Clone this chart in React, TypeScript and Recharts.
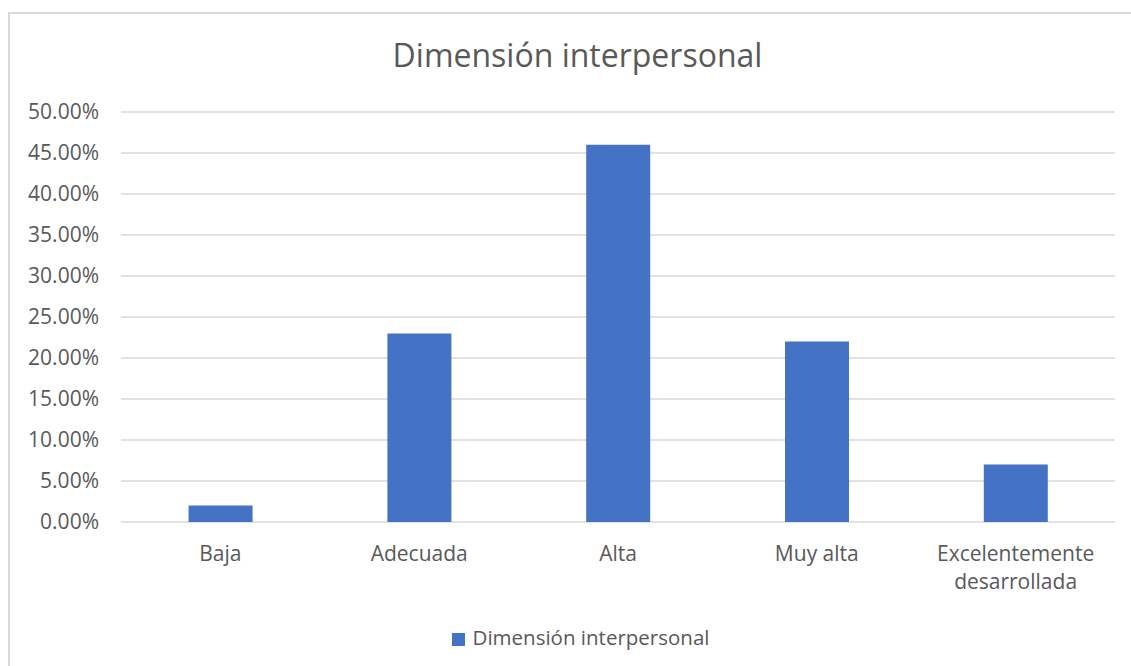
import { BarChart, Bar, XAxis, YAxis, CartesianGrid, Legend, Text } from 'recharts';

const categories = ['Baja', 'Adecuada', 'Alta', 'Muy alta', 'Excelentemente desarrollada'];
const values = [0.02, 0.23, 0.46, 0.22, 0.07];
const yTicks = [0, 0.05, 0.1, 0.15, 0.2, 0.25, 0.3, 0.35, 0.4, 0.45, 0.5];
const seriesName = 'Dimensión interpersonal';

const data = categories.map((c, i) => ({ name: c, value: values[i] }));

const FONT = '"Open Sans", "Segoe UI", sans-serif';
const GREY = '#595959';

function pct(v: number) {
  return (v * 100).toFixed(2) + '%';
}

// category labels wrap onto a second line when they're too long
function CategoryTick(props: any) {
  const { x, y, payload } = props;
  return (
    <Text
      x={x}
      y={y}
      width={180}
      lineHeight={28}
      textAnchor="middle"
      verticalAnchor="start"
      fill={GREY}
      fontSize={21}
      fontFamily={FONT}
    >
      {payload.value}
    </Text>
  );
}

export default function App() {
  return (
    <div style={{ position: 'fixed', left: 0, top: 0, width: 1131, height: 666, background: '#fff' }}>
      <div
        style={{
          position: 'absolute',
          left: 8,
          top: 12,
          width: 1200,
          height: 700,
          borderLeft: '2px solid #d9d9d9',
          borderTop: '2px solid #d9d9d9',
        }}
      />
      <div
        style={{
          position: 'absolute',
          left: 0,
          width: 1155,
          top: 35,
          textAlign: 'center',
          fontFamily: FONT,
          fontSize: 32,
          color: GREY,
          lineHeight: '40px',
        }}
      >
        Dimensión interpersonal
      </div>
      <BarChart
        width={1131}
        height={666}
        data={data}
        margin={{ top: 112, right: 16, left: 0, bottom: 0 }}
        barCategoryGap="34%"
        style={{ position: 'absolute', left: 0, top: 0 }}
      >
        <CartesianGrid vertical={false} stroke="#d9d9d9" strokeWidth={1.5} />
        <XAxis
          dataKey="name"
          height={144}
          axisLine={false}
          tickLine={false}
          tickSize={0}
          tickMargin={24}
          interval={0}
          tick={<CategoryTick />}
        />
        <YAxis
          width={121}
          domain={[0, 0.5]}
          ticks={yTicks}
          tickFormatter={pct}
          axisLine={false}
          tickLine={false}
          tickSize={0}
          tickMargin={22}
          tick={{ fill: GREY, fontSize: 21, fontFamily: FONT }}
        />
        <Legend
          verticalAlign="middle"
          align="center"
          layout="horizontal"
          iconType="square"
          iconSize={13}
          wrapperStyle={{ top: 623, left: 20, width: 1131, fontFamily: FONT, fontSize: 20.5 }}
          formatter={(v) => <span style={{ color: GREY, marginLeft: 4 }}>{v}</span>}
        />
        <Bar dataKey="value" name={seriesName} fill="#4472c4" isAnimationActive={false} />
      </BarChart>
    </div>
  );
}
